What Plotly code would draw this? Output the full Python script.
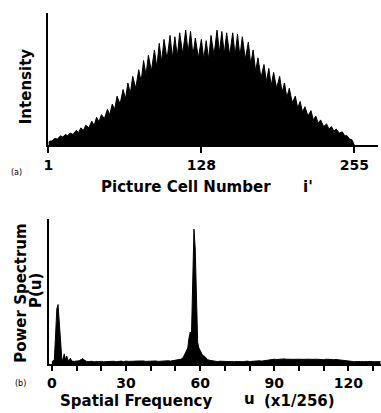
import plotly.graph_objects as go

# ---------------- Panel (a): intensity profile ----------------
peak_cells = [2, 6, 11, 15, 19, 24, 28, 32, 37, 41, 45, 50, 54, 58, 63, 67, 71, 76, 80, 84,
              89, 93, 97, 102, 106, 110, 115, 119, 123, 128, 132, 136, 141, 145, 149, 154, 158, 162, 167, 171,
              175, 180, 184, 188, 193, 197, 201, 206, 210, 214, 219, 223, 227, 232, 236, 240, 245, 249, 253]
peak_intensity = [3, 5, 7, 8, 9, 11, 13, 15, 18, 21, 23, 27, 31, 37, 42, 47, 52, 57, 64, 68,
                  72, 77, 80, 83, 82, 85, 87, 86, 81, 80, 79, 83, 87, 86, 85, 85, 84, 82, 78, 72,
                  66, 61, 58, 55, 52, 47, 43, 37, 33, 29, 26, 22, 19, 16, 14, 12, 10, 7, 4]
valley_cells = [1, 4, 8.5, 13, 17, 21.5, 26, 30, 34.5, 39, 43, 47.5, 52, 56, 60.5, 65, 69, 73.5, 78, 82,
                86.5, 91, 95, 99.5, 104, 108, 112.5, 117, 121, 125.5, 130, 134, 138.5, 143, 147, 151.5, 156, 160,
                164.5, 169, 173, 177.5, 182, 186, 190.5, 195, 199, 203.5, 208, 212, 216.5, 221, 225, 229.5, 234,
                238, 242.5, 247, 251, 255]
valley_intensity = [2, 3, 4.5, 6, 7, 8, 9.5, 11, 13, 15, 17.5, 20, 23, 27, 31, 35, 39, 43, 48, 53,
                    56, 59, 63, 65, 66, 67, 69, 70, 68, 66, 65, 65, 68, 70, 69, 68, 68, 67, 65, 61,
                    56, 51, 48, 45, 43, 40, 36, 32, 28, 25, 22, 19, 16.5, 14, 12, 10.5, 9, 7, 4.5, 0]
cell_ticks = [1, 128, 255]
cell_tick_labels = ["1", "128", "255"]

# ---------------- Panel (b): power spectrum ----------------
spectrum_u = [0, 0.5, 1, 1.5, 2, 2.5, 3, 3.5, 4, 4.5, 5, 5.5, 6, 6.5, 7, 7.5, 8, 9, 10, 11, 12, 12.5, 13,
              14, 15, 16, 17, 18, 19, 20, 21, 22, 23, 24, 25, 26, 27, 28, 29, 30, 31, 32, 33, 34, 35, 36, 37,
              38, 39, 40, 41, 42, 43, 44, 45, 46, 47, 48, 49, 50, 51, 52, 53, 54, 54.5, 55, 55.5, 56, 56.5,
              57, 57.5, 58, 58.5, 59, 59.5, 60, 61, 62, 63, 64, 65, 66, 67, 68, 69, 70, 71, 72, 73, 74, 75,
              76, 77, 78, 79, 80, 81, 82, 83, 84, 85, 86, 87, 88, 89, 90, 91, 92, 93, 94, 95, 96, 97, 98,
              99, 100, 101, 102, 103, 104, 105, 106, 107, 108, 109, 110, 111, 112, 113, 114, 115, 116, 117,
              118, 119, 120, 121, 122, 123, 124, 125, 126, 127, 128, 129, 130, 131, 132, 133]
spectrum_p = [1.5, 2, 3, 20, 38, 41, 30, 16, 4, 3, 7, 3, 5.5, 2.5, 2.5, 4, 2, 1.8, 1.8, 2.2, 3.2, 3.8, 2.8,
              1.8, 1.6, 1.9, 1.5, 1.7, 1.6, 1.8, 1.5, 1.7, 1.5, 1.6, 1.9, 1.5, 1.7, 2.0, 1.6, 2.0, 1.8, 2.1,
              1.9, 2.0, 2.2, 1.9, 2.1, 1.8, 2.0, 2.2, 1.9, 2.1, 1.8, 2.0, 2.1, 1.9, 2.2, 2.0, 2.3, 2.5, 2.8,
              3.2, 4, 7, 9, 11, 18, 22, 20, 55, 93, 80, 40, 15, 11, 9, 6, 5, 3, 2.5, 2.2, 1.9, 1.7, 1.9, 1.6,
              1.8, 1.7, 1.5, 1.8, 1.6, 1.7, 1.9, 1.6, 1.7, 2.0, 1.7, 1.9, 2.1, 1.9, 2.2, 2.0, 2.3, 2.5, 2.7,
              3.0, 3.3, 3.1, 3.4, 3.2, 3.5, 3.3, 3.1, 3.4, 3.2, 3.3, 3.1, 3.4, 3.2, 3.3, 3.1, 3.4, 3.2, 3.3,
              3.1, 3.2, 3.0, 3.3, 3.1, 3.2, 3.0, 3.1, 2.9, 3.1, 2.9, 2.7, 2.2, 1.9, 1.6, 1.8, 1.5, 1.7, 1.6,
              1.8, 1.5, 1.7, 1.6, 1.5, 1.7, 1.6]
freq_ticks = [0, 10, 20, 30, 40, 50, 60, 70, 80, 90, 100, 110, 120, 130]
freq_tick_labels = ["0", "", "", "30", "", "", "60", "", "", "90", "", "", "120", ""]

# interleave valleys and peaks for the profile trace
prof_x, prof_y = [], []
for k in range(len(peak_cells)):
    prof_x += [valley_cells[k], peak_cells[k]]
    prof_y += [valley_intensity[k], peak_intensity[k]]
prof_x.append(valley_cells[-1])
prof_y.append(valley_intensity[-1])

W, H = 381, 413
def px(x):
    return x / W
def py(y):
    return 1 - y / H

FONT = "DejaVu Sans"
fig = go.Figure()
fig.add_trace(go.Scatter(x=prof_x, y=prof_y, mode="lines", fill="tozeroy",
                         fillcolor="black", line=dict(color="black", width=1),
                         xaxis="x", yaxis="y", hoverinfo="skip"))
fig.add_trace(go.Scatter(x=spectrum_u, y=spectrum_p, mode="lines", fill="tozeroy",
                         fillcolor="black", line=dict(color="black", width=1),
                         xaxis="x2", yaxis="y2", hoverinfo="skip"))

axis_common = dict(showgrid=False, zeroline=False, showline=True, linecolor="black",
                   linewidth=2, fixedrange=True)
tickfont = dict(family=FONT, size=14, color="black", weight="bold")

fig.update_layout(
    width=W, height=H, autosize=False, showlegend=False,
    margin=dict(l=0, r=0, t=0, b=0),
    paper_bgcolor="white", plot_bgcolor="white",
    xaxis=dict(domain=[px(44), px(378)], range=[1, 274.7], anchor="y",
               tickvals=cell_ticks, ticktext=cell_tick_labels, ticks="outside",
               ticklen=6, tickwidth=1.5, tickcolor="black", tickfont=tickfont,
               **axis_common),
    yaxis=dict(domain=[py(145), py(13)], range=[0, 100], anchor="x",
               showticklabels=False, ticks="", **axis_common),
    xaxis2=dict(domain=[px(45), 1.0], range=[-1.0, 133.2], anchor="y2",
                tickvals=freq_ticks, ticktext=freq_tick_labels, ticks="outside",
                ticklen=5, tickwidth=1.5, tickcolor="black", tickfont=tickfont,
                **axis_common),
    yaxis2=dict(domain=[py(364), py(219)], range=[0, 100], anchor="x2",
                showticklabels=False, ticks="", **axis_common),
)

def label(text, x, y, size=15, angle=0, weight="bold"):
    fig.add_annotation(text=text, x=px(x), y=py(y), xref="paper", yref="paper",
                       xanchor="center", yanchor="middle", showarrow=False,
                       textangle=angle,
                       font=dict(family=FONT, size=size, color="black", weight=weight))

label("Intensity", 21.5, 86, angle=-90)
label("Picture Cell Number", 183.5, 187)
label("i'", 307.5, 187)
label("(a)", 12, 172, size=8, weight="normal")
label("Power Spectrum", 16, 293, angle=-90)
label("P(u)", 31.5, 291, angle=-90)
label("Spatial Frequency", 133, 401)
label("u", 248, 399)
label("(x1/256)", 298, 401)
label("(b)", 15.5, 383.5, size=8, weight="normal")

fig.write_html("out.html", config={"displayModeBar": False},
               post_script="document.body.style.margin='0';document.body.style.overflow='hidden';")
